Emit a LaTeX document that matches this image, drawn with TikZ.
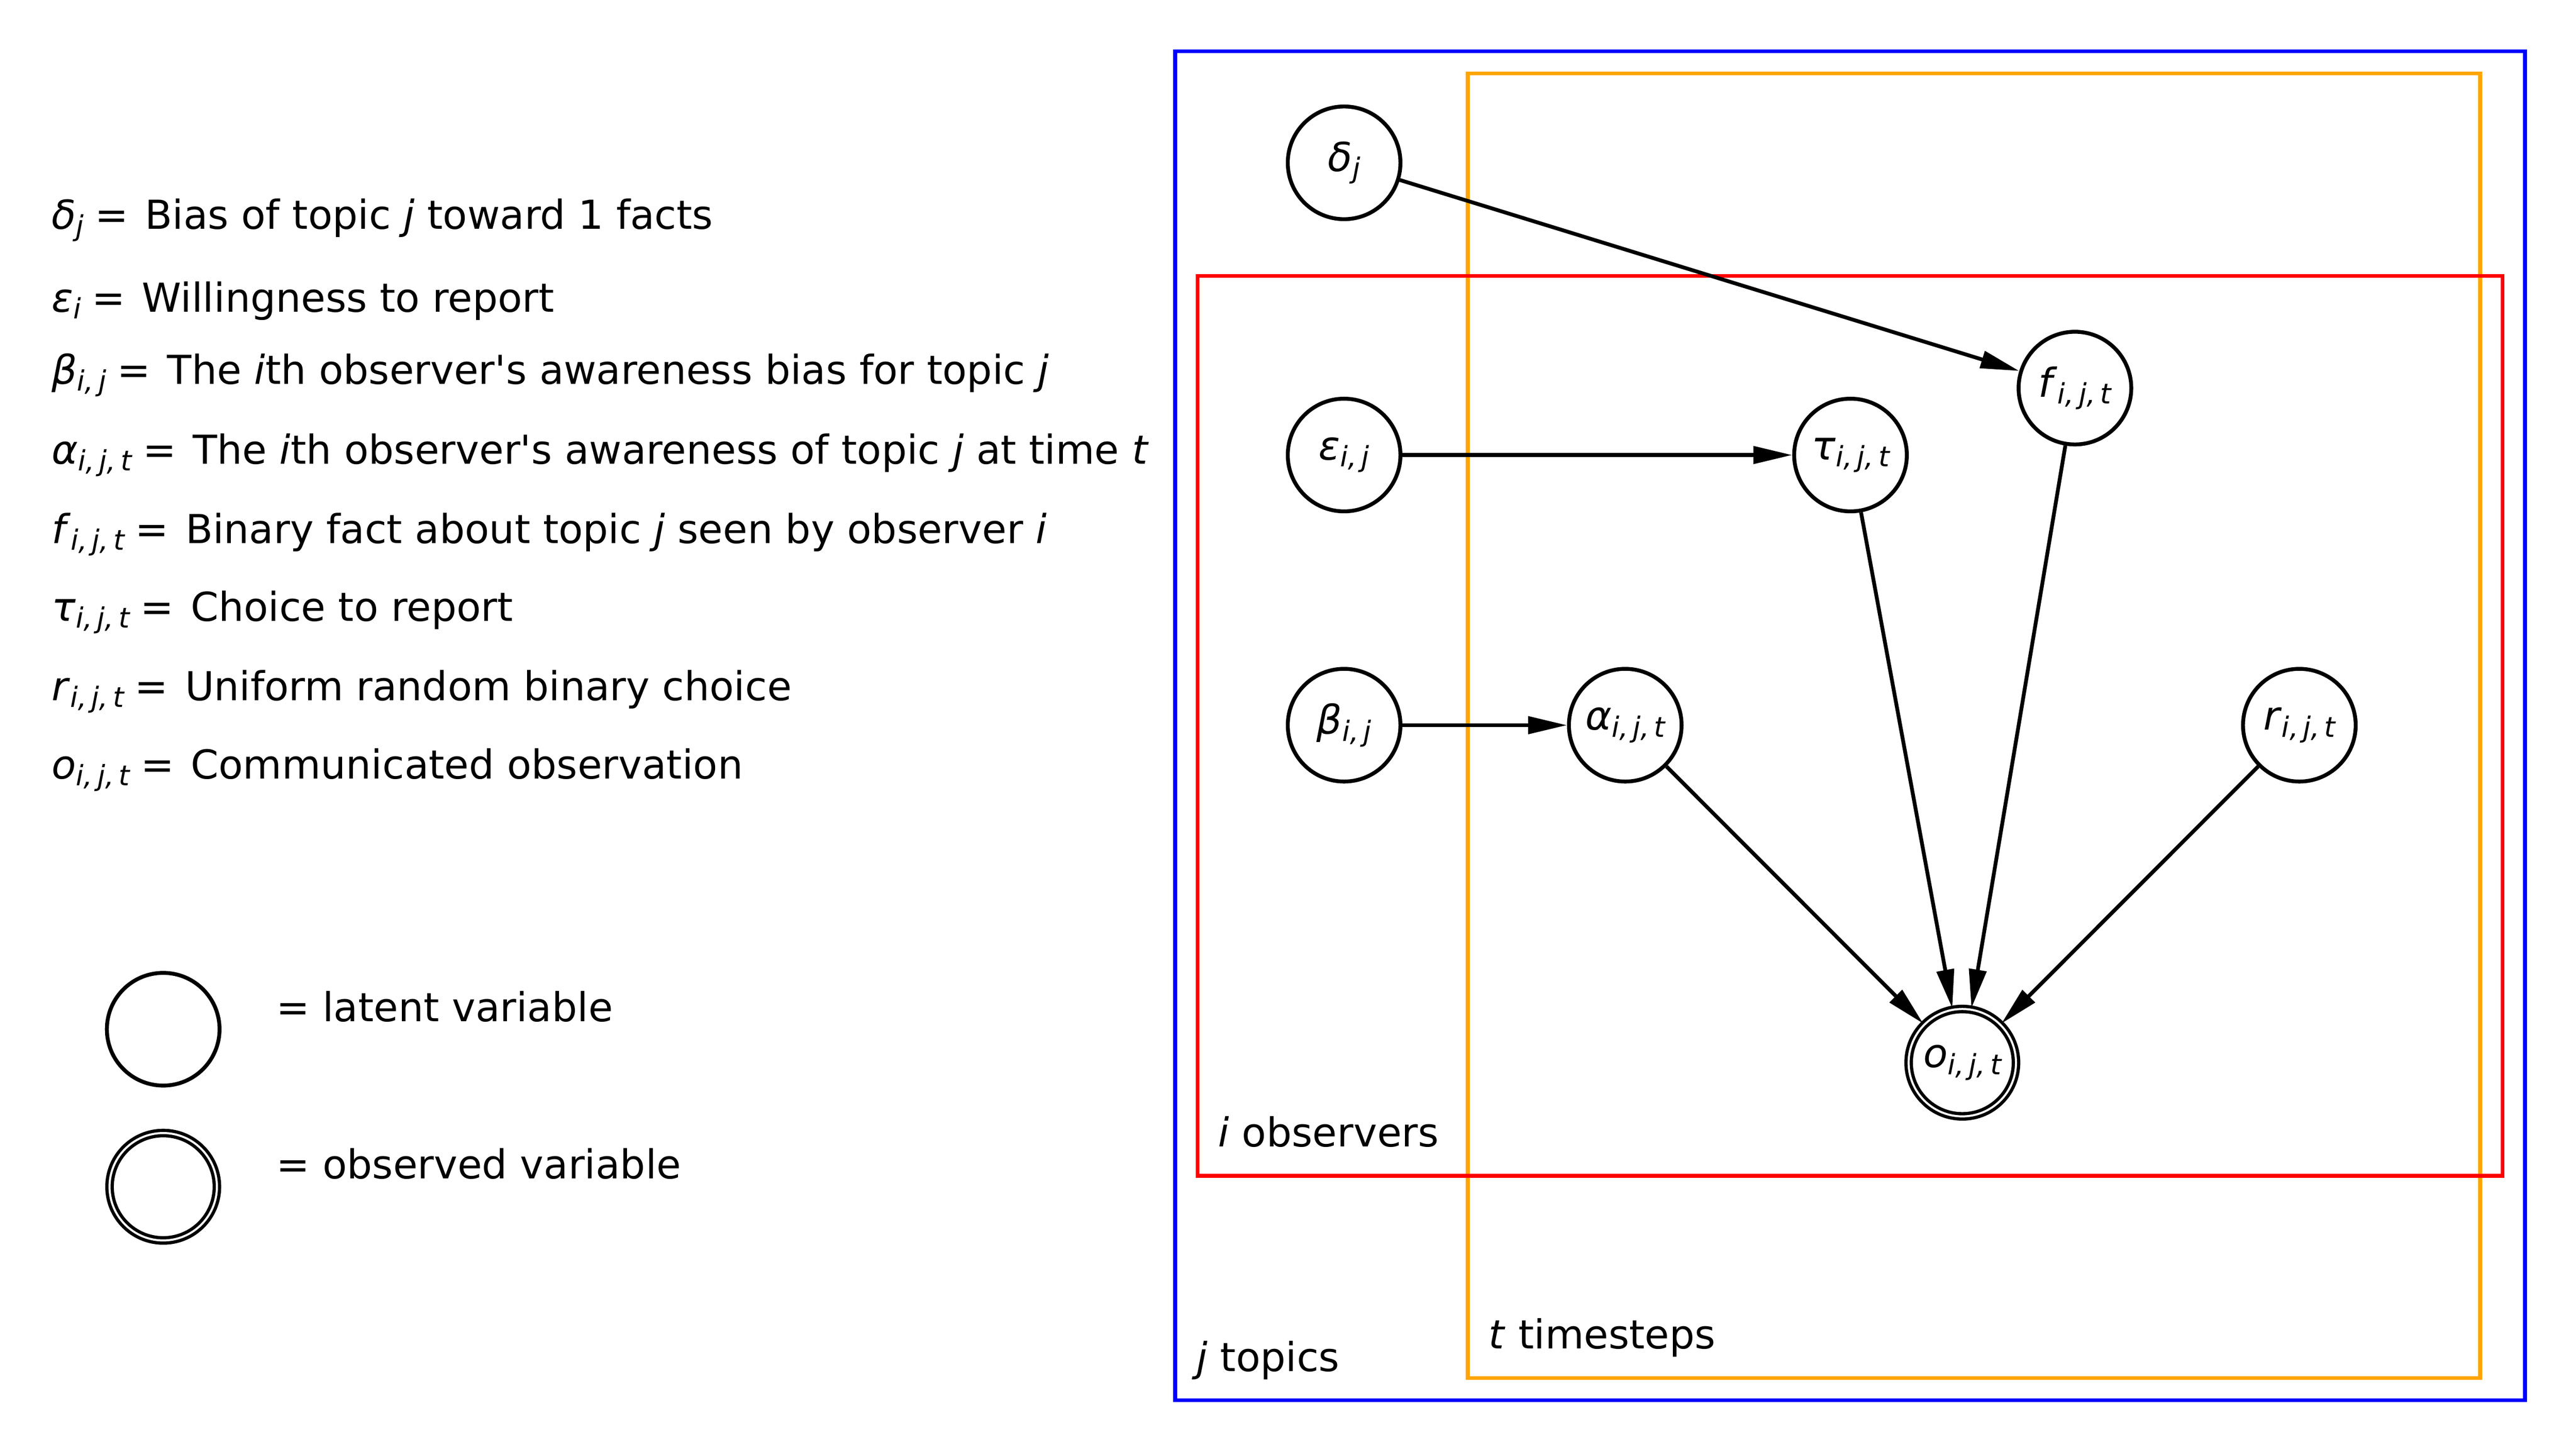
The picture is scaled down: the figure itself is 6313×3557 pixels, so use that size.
\documentclass[tikz,border=0pt]{standalone}
\usepackage{fontspec}
\setmainfont{DejaVu Sans}
\usetikzlibrary{arrows.meta}
\definecolor{mplorange}{HTML}{FFA500}
\newcommand{\mv}[1]{\textit{#1}}
\newcommand{\sub}[1]{\raisebox{-0.17em}{\fontsize{19.5}{20}\selectfont\itshape #1}}
\newcommand{\eq}{\hspace{0.278em}=\hspace{0.1em}\ }
\newcommand{\apos}{\textquotesingle}

\begin{document}
\begin{tikzpicture}[x=0.01cm,y=-0.01cm,
  font=\fontsize{27.8}{33}\selectfont,
  latent/.style={circle,draw,line width=0.095cm,minimum size=2.76cm,inner sep=0pt},
  observed/.style={circle,draw,line width=0.08cm,double,double distance=0.05cm,minimum size=2.63cm,inner sep=0pt},
  txt/.style={anchor=base west,inner sep=0pt},
  plate/.style={line width=0.093cm},
  edge/.style={line width=0.093cm,-{Triangle[length=0.95cm,width=0.42cm]}}]
  \useasboundingbox (0,0) rectangle (6313,3557);

  % plates
  \draw[plate,blue] (2880,126) rectangle (6188,3431);
  \draw[plate,mplorange] (3597,180) rectangle (6078,3377);
  \draw[plate,red] (2935,676) rectangle (6133,2881);
  \node[txt] (lobs) at (2985,2810) {\mv{i} observers};
  \node[txt] (ltop) at (2932,3360) {\mv{j} topics};
  \node[txt] (ltim) at (3648,3305) {\mv{t} timesteps};

  % variables
  \node[latent] (delta) at (3294,399) {\mv{δ}\sub{j}};
  \node[latent] (eps) at (3294,1115) {\mv{ε}\sub{i,\,j}};
  \node[latent] (beta) at (3294,1777) {\mv{β}\sub{i,\,j}};
  \node[latent] (alpha) at (3983,1777) {\mv{α}\sub{i,\,j,\,t}};
  \node[latent] (tau) at (4535,1115) {\mv{τ}\sub{i,\,j,\,t}};
  \node[latent] (fact) at (5085,951) {\mv{f}\sub{i,\,j,\,t}};
  \node[latent] (rand) at (5635,1777) {\mv{r}\sub{i,\,j,\,t}};
  \node[observed] (obs) at (4809,2604) {\mv{o}\sub{i,\,j,\,t}};

  \draw[edge] (delta) -- (fact);
  \draw[edge] (eps) -- (tau);
  \draw[edge] (beta) -- (alpha);
  \draw[edge] (alpha) -- (obs);
  \draw[edge] (tau) -- (obs);
  \draw[edge] (fact) -- (obs);
  \draw[edge] (rand) -- (obs);

  % definitions
  \node[txt] (ddelta) at (126,561) {\mv{δ}\sub{j}\eq Bias of topic \mv{j} toward 1 facts};
  \node[txt] (deps) at (126,764) {\mv{ε}\sub{i}\eq Willingness to report};
  \node[txt] (dbeta) at (126,941) {\mv{β}\sub{i,\,j}\eq The \mv{i}th observer\apos s awareness bias for topic \mv{j}};
  \node[txt] (dalpha) at (126,1137) {\mv{α}\sub{i,\,j,\,t}\eq The \mv{i}th observer\apos s awareness of topic \mv{j} at time \mv{t}};
  \node[txt] (dfact) at (126,1331) {\mv{f}\sub{i,\,j,\,t}\eq Binary fact about topic \mv{j} seen by observer \mv{i}};
  \node[txt] (dtau) at (126,1522) {\mv{τ}\sub{i,\,j,\,t}\eq Choice to report};
  \node[txt] (drand) at (126,1716) {\mv{r}\sub{i,\,j,\,t}\eq Uniform random binary choice};
  \node[txt] (dobs) at (126,1908) {\mv{o}\sub{i,\,j,\,t}\eq Communicated observation};

  % key
  \node[latent] (klat) at (400,2522) {};
  \node[observed] (kobs) at (400,2908) {};
  \node[txt] (tlat) at (677,2503) {= latent variable};
  \node[txt] (tobs) at (677,2888) {= observed variable};
\end{tikzpicture}
\end{document}
